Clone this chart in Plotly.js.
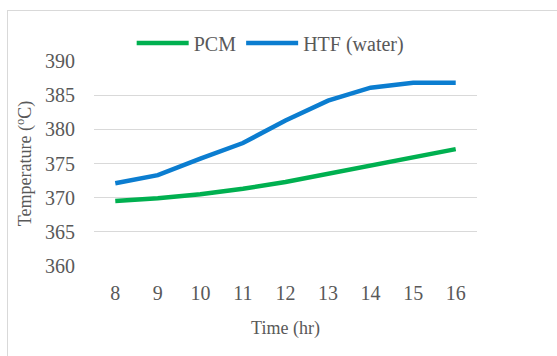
<!DOCTYPE html>
<html><head><meta charset="utf-8">
<script src="https://cdn.plot.ly/plotly-3.0.1.min.js"></script>
<style>
html,body{margin:0;padding:0;background:#fff;overflow:hidden;}
#frame{position:absolute;left:7px;top:10px;width:600px;height:400px;border:1px solid #d9d9d9;}
#chart{position:absolute;left:0;top:0;width:557px;height:356px;}
</style></head>
<body>
<div id="frame"></div>
<div id="chart"></div>
<script>
const hours = ['8','9','10','11','12','13','14','15','16'];
const pcm = [369.5, 369.9, 370.5, 371.3, 372.3, 373.5, 374.8, 376.0, 377.1];
const htf = [372.1, 373.3, 375.7, 378.0, 381.3, 384.2, 386.1, 386.8, 386.8];
const font = 'Liberation Serif';
const col = '#595959';
const traces = [
  {x: hours, y: pcm, name: 'PCM', type: 'scatter', mode: 'lines', line: {color: '#00B050', width: 4.5}},
  {x: hours, y: htf, name: 'HTF (water)', type: 'scatter', mode: 'lines', line: {color: '#0B7DD0', width: 4.5}}
];
const layout = {
  width: 557, height: 356,
  margin: {l: 94, r: 80, t: 61, b: 90},
  paper_bgcolor: 'rgba(0,0,0,0)', plot_bgcolor: 'rgba(0,0,0,0)',
  font: {family: font, color: col, size: 20},
  showlegend: true,
  legend: {orientation: 'h', x: 0.46, y: 1.088, xanchor: 'center', yanchor: 'middle',
           font: {family: font, size: 20, color: col}, itemwidth: 52, bgcolor: 'rgba(0,0,0,0)'},
  xaxis: {type: 'category', range: [-0.5, 8.5], showgrid: false, showline: false, zeroline: false,
          ticks: '', ticklabelstandoff: 13, tickfont: {family: font, size: 20, color: col},
          title: {text: 'Time (hr)', font: {family: font, size: 18, color: col}, standoff: 18}},
  yaxis: {range: [360, 390], dtick: 5, showgrid: true, gridcolor: '#d9d9d9', gridwidth: 1,
          zeroline: false, showline: false, ticks: '', ticklabelstandoff: 18,
          tickfont: {family: font, size: 20, color: col},
          title: {text: 'Temperature (<sup>o</sup>C)', font: {family: font, size: 18, color: col}, standoff: 8}}
};
Plotly.newPlot('chart', traces, layout, {displayModeBar: false, staticPlot: true});
</script>
</body></html>
